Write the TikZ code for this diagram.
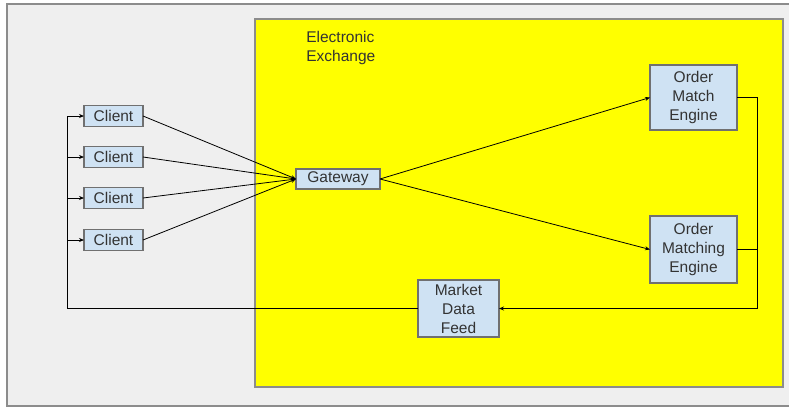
\documentclass[tikz,border=0pt]{standalone}
\usepackage{fontspec}
\setmainfont{Liberation Sans}
\usetikzlibrary{arrows.meta}
\definecolor{bggray}{RGB}{239,239,239}
\definecolor{framegray}{RGB}{140,140,140}
\definecolor{exyellow}{RGB}{255,255,0}
\definecolor{boxblue}{RGB}{207,226,243}
\definecolor{boxline}{RGB}{112,112,112}
\definecolor{txtgray}{RGB}{51,51,51}
\begin{document}
\begin{tikzpicture}[x=1pt, y=-1pt, outer sep = 0pt, font=\fontsize{15.5}{19}\selectfont]

\tikzstyle{unit}=[draw=boxline, line width=1.2pt, fill=boxblue, text=txtgray, rectangle, inner sep=0pt, align=center]
\tikzstyle{link}=[line width=0.8pt, -{Stealth[length=5pt,width=4pt]}]

\useasboundingbox (0,0) rectangle (789,407);
\draw[fill=bggray, draw=framegray, line width=1.5pt] (7,4) rectangle (805,406);
\draw[fill=exyellow, draw=framegray, line width=1.5pt] (255,19) rectangle (783,387);
\node[text=txtgray, align=left, anchor=north west] (title) at (303,28) {Electronic\\Exchange};

\node[unit, minimum width=59, minimum height=21] (client1) at (113.5,116) {Client}; \node[unit, minimum width=59, minimum height=21] (client2) at (113.5,157) {Client};
\node[unit, minimum width=59, minimum height=21] (client3) at (113.5,198) {Client}; \node[unit, minimum width=59, minimum height=21] (client4) at (113.5,240) {Client};
\node[unit, minimum width=84, minimum height=20] (gateway) at (338,179) {Gateway};
\node[unit, minimum width=87, minimum height=65] (engine1) at (693.5,97.5) {Order\\Match\\Engine};
\node[unit, minimum width=87, minimum height=67] (engine2) at (693.5,249.5) {Order\\Matching\\Engine};
\node[unit, minimum width=81, minimum height=57] (feed) at (458.5,308.5) {Market\\Data\\Feed};

\coordinate (rbus) at (757,308.5); \coordinate (lbus) at (67,308.5);

\draw[link] (client1.east) -- (gateway.west); \draw[link] (client2.east) -- (gateway.west);
\draw[link] (client3.east) -- (gateway.west); \draw[link] (client4.east) -- (gateway.west);
\draw[link] (gateway.east) -- (engine1.west); \draw[link] (gateway.east) -- (engine2.west);

\draw[link] (engine1.east) -| (rbus) -- (feed.east);
\draw[line width=0.8pt] (engine2.east) -- (engine2.east -| rbus);

\draw[line width=1.3pt] (feed.west) -- (lbus);
\draw[link] (lbus) |- (client1.west); \draw[link] (lbus) |- (client2.west);
\draw[link] (lbus) |- (client3.west); \draw[link] (lbus) |- (client4.west);

\end{tikzpicture}
\end{document}
